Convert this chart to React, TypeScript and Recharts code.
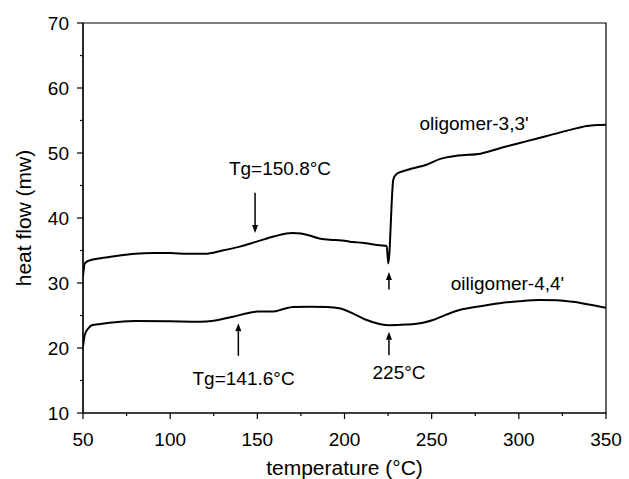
import React from "react";
import {
  LineChart,
  Line,
  XAxis,
  YAxis,
  ReferenceLine,
  ReferenceDot,
  ReferenceArea,
} from "recharts";

// oligomer-3,3' trace
const oligomer33 = [
  { x: 50, y: 31.0 }, { x: 51, y: 33.0 }, { x: 53, y: 33.4 }, { x: 60, y: 33.8 },
  { x: 70, y: 34.2 }, { x: 80, y: 34.5 }, { x: 90, y: 34.6 }, { x: 100, y: 34.6 },
  { x: 110, y: 34.5 }, { x: 120, y: 34.5 }, { x: 130, y: 35.0 }, { x: 140, y: 35.6 },
  { x: 150, y: 36.4 }, { x: 160, y: 37.2 }, { x: 170, y: 37.7 }, { x: 175, y: 37.6 },
  { x: 180, y: 37.3 }, { x: 185, y: 36.9 }, { x: 190, y: 36.7 }, { x: 195, y: 36.6 },
  { x: 200, y: 36.5 }, { x: 205, y: 36.3 }, { x: 210, y: 36.2 }, { x: 215, y: 36.0 },
  { x: 220, y: 35.8 }, { x: 224.2, y: 35.7 }, { x: 225.1, y: 33.0 }, { x: 228, y: 45.9 },
  { x: 230, y: 46.8 }, { x: 235, y: 47.3 }, { x: 240, y: 47.7 }, { x: 247, y: 48.2 },
  { x: 255, y: 49.1 }, { x: 265, y: 49.6 }, { x: 278, y: 49.9 }, { x: 290, y: 50.8 },
  { x: 300, y: 51.5 }, { x: 310, y: 52.2 }, { x: 320, y: 52.9 }, { x: 330, y: 53.6 },
  { x: 339, y: 54.15 }, { x: 345, y: 54.3 }, { x: 350, y: 54.35 },
];

// oiligomer-4,4' trace
const oligomer44 = [
  { x: 50, y: 20.2 }, { x: 51, y: 22.0 }, { x: 53, y: 23.0 }, { x: 55, y: 23.5 },
  { x: 60, y: 23.7 }, { x: 70, y: 24.0 }, { x: 80, y: 24.15 }, { x: 100, y: 24.1 },
  { x: 117, y: 24.05 }, { x: 125, y: 24.2 }, { x: 136, y: 24.8 }, { x: 145, y: 25.4 },
  { x: 150, y: 25.6 }, { x: 159, y: 25.6 }, { x: 165, y: 26.0 }, { x: 170.5, y: 26.3 },
  { x: 180, y: 26.35 }, { x: 190, y: 26.3 }, { x: 197, y: 26.1 }, { x: 205, y: 25.3 },
  { x: 212.7, y: 24.3 }, { x: 220, y: 23.7 }, { x: 226, y: 23.5 }, { x: 235, y: 23.6 },
  { x: 245, y: 23.9 }, { x: 250.8, y: 24.3 }, { x: 258, y: 25.1 }, { x: 266, y: 25.85 },
  { x: 277, y: 26.4 }, { x: 289, y: 26.9 }, { x: 300, y: 27.2 }, { x: 312, y: 27.4 },
  { x: 322, y: 27.35 }, { x: 331, y: 27.1 }, { x: 340, y: 26.7 }, { x: 350, y: 26.2 },
];

const xTicks = [50, 75, 100, 125, 150, 175, 200, 225, 250, 275, 300, 325, 350];
const yTicks = [10, 15, 20, 25, 30, 35, 40, 45, 50, 55, 60, 65, 70];

// arrows: from -> to (head at "to")
const arrows = [
  { x: 148.7, from: 43.9, to: 37.7 },
  { x: 139.1, from: 18.8, to: 23.8 },
  { x: 225.5, from: 18.9, to: 22.5 },
  { x: 225.5, from: 29.0, to: 31.7 },
];

const notes = [
  { x: 163.0, y: 47.7, text: "Tg=150.8°C" },
  { x: 142.1, y: 15.4, text: "Tg=141.6°C" },
  { x: 231.3, y: 16.2, text: "225°C" },
  { x: 274.3, y: 54.6, text: "oligomer-3,3'" },
  { x: 293.5, y: 30.0, text: "oiligomer-4,4'" },
];

const FONT = "Arial, 'Liberation Sans', sans-serif";

const XTick = (props: any) => {
  const { x, y, payload } = props;
  const major = payload.value % 50 === 0;
  return (
    <g>
      <line x1={x} x2={x} y1={y} y2={y + (major ? 6 : 3)} stroke="#000" strokeWidth={1.2} />
      {major && (
        <text x={x} y={y + 26} dy="0.355em" textAnchor="middle" fontSize={19} fontFamily={FONT} fill="#000">
          {payload.value}
        </text>
      )}
    </g>
  );
};

const YTick = (props: any) => {
  const { x, y, payload } = props;
  const major = payload.value % 10 === 0;
  return (
    <g>
      <line x1={x} x2={x - (major ? 6 : 3)} y1={y} y2={y} stroke="#000" strokeWidth={1.2} />
      {major && (
        <text x={x - 14} y={y} dy="0.355em" textAnchor="end" fontSize={19} fontFamily={FONT} fill="#000">
          {payload.value}
        </text>
      )}
    </g>
  );
};

const ArrowShape = (p: any) => {
  const { x1, y1, x2, y2 } = p;
  const dir = y2 > y1 ? 1 : -1;
  const head = 8;
  const base = y2 - dir * head;
  return (
    <g>
      <line x1={x1} y1={y1} x2={x2} y2={base} stroke="#000" strokeWidth={1.5} />
      <polygon points={`${x2},${y2} ${x2 - 3},${base} ${x2 + 3},${base}`} fill="#000" />
    </g>
  );
};

const NoteShape = (text: string) => (p: any) => (
  <text x={p.cx} y={p.cy} dy="0.355em" textAnchor="middle" fontSize={19} fontFamily={FONT} fill="#000">
    {text}
  </text>
);

export default function App() {
  return (
    <div style={{ position: "absolute", left: 0, top: 0, background: "#fff" }}>
      <LineChart width={629} height={479} margin={{ top: 23, right: 23, left: 0, bottom: 0 }}>
        <XAxis
          type="number"
          dataKey="x"
          domain={[50, 350]}
          ticks={xTicks}
          interval={0}
          allowDataOverflow
          height={66}
          tickSize={0}
          tickMargin={0}
          tickLine={false}
          tick={<XTick />}
          axisLine={{ stroke: "#000", strokeWidth: 1.2 }}
          label={{ value: "temperature (°C)", position: "insideBottom", offset: 4, fontSize: 21, fontFamily: FONT, fill: "#000" }}
        />
        <YAxis
          type="number"
          dataKey="y"
          domain={[10, 70]}
          ticks={yTicks}
          interval={0}
          allowDataOverflow
          width={83}
          tickSize={0}
          tickMargin={0}
          tickLine={false}
          tick={<YTick />}
          axisLine={{ stroke: "#000", strokeWidth: 1.2 }}
          label={{ value: "heat flow (mw)", angle: -90, position: "insideLeft", offset: 24, fontSize: 21, fontFamily: FONT, fill: "#000", style: { textAnchor: "middle" } }}
        />
        <ReferenceArea x1={50} x2={350} y1={10} y2={70} fill="none" stroke="#000" strokeWidth={1.2} />
        <Line data={oligomer33} dataKey="y" type="monotoneX" stroke="#000" strokeWidth={2} dot={false} isAnimationActive={false} />
        <Line data={oligomer44} dataKey="y" type="monotoneX" stroke="#000" strokeWidth={2} dot={false} isAnimationActive={false} />
        {arrows.map((a, i) => (
          <ReferenceLine
            key={"a" + i}
            segment={[{ x: a.x, y: a.from }, { x: a.x, y: a.to }]}
            shape={ArrowShape}
          />
        ))}
        {notes.map((n, i) => (
          <ReferenceDot key={"n" + i} x={n.x} y={n.y} r={0} shape={NoteShape(n.text)} />
        ))}
      </LineChart>
    </div>
  );
}
